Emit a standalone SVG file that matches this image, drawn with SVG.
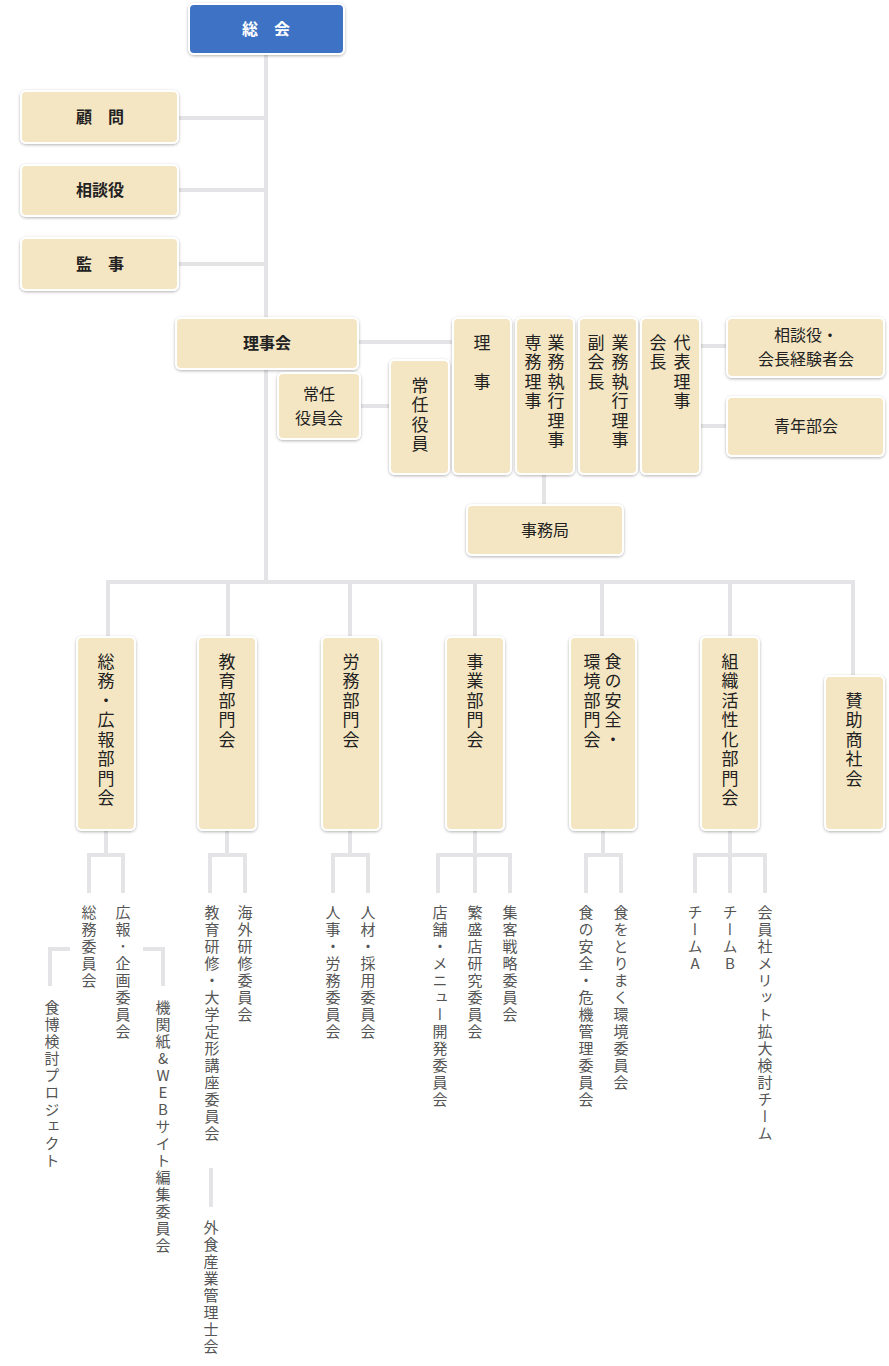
<svg xmlns="http://www.w3.org/2000/svg" width="889" height="1366" viewBox="0 0 889 1366">
<defs>
<filter id="sh" x="-20%" y="-20%" width="140%" height="140%"><feDropShadow dx="0" dy="1" stdDeviation="1.5" flood-color="#000" flood-opacity="0.3"/></filter>
<style>
.b{fill:#f5e6c3;stroke:#fff;stroke-width:2;filter:url(#sh)}
.t{font-family:"Noto Sans CJK JP","Noto Sans",sans-serif;font-size:16px;fill:#222;text-anchor:middle}
.v{font-family:"Noto Sans CJK JP","Noto Sans",sans-serif;font-size:17px;fill:#222;writing-mode:vertical-rl;text-orientation:upright;letter-spacing:2.5px}
.s{font-family:"Noto Sans CJK JP","Noto Sans",sans-serif;font-size:15px;fill:#555;writing-mode:vertical-rl;text-orientation:upright;letter-spacing:2px}
.l{stroke:#e4e4e6;stroke-width:4;fill:none}
</style>
</defs>
<g id="connectors">
<path class="l" d="M266 54V582M178 118H266M178 190H266M178 264H266M358 342H453M360 406H390M700 346H727M700 426H727M544 474V505"/>
<path class="l" d="M108 636V582H853V676M228 582V636M350 582V636M475 582V636M602 582V636M730 582V636"/>
<path class="l" d="M106 830V855M89 893V855H123V893M50 986V949H70M143 949H163V986"/>
<path class="l" d="M227 830V855M210 893V855H245V893M211 1168V1207"/>
<path class="l" d="M350 830V855M333 893V855H368V893"/>
<path class="l" d="M475 830V855M438 893V855H510V893M475 855V893"/>
<path class="l" d="M603 830V855M586 893V855H621V893"/>
<path class="l" d="M730 830V893M695 893V855H765V893"/>
</g>
<g id="n-soukai"><rect x="189" y="4" width="155" height="50" rx="5" fill="#3c72c4" stroke="#fff" stroke-width="2" filter="url(#sh)"/><text class="t" x="266" y="35" style="fill:#fff;font-weight:bold">総　会</text></g>
<g id="n-komon"><rect class="b" x="21" y="91" width="157" height="52" rx="5"/><text class="t" x="100" y="123" font-weight="bold">顧　問</text></g>
<g id="n-soudan"><rect class="b" x="21" y="165" width="157" height="51" rx="5"/><text class="t" x="100" y="196" font-weight="bold">相談役</text></g>
<g id="n-kanji"><rect class="b" x="21" y="238" width="157" height="52" rx="5"/><text class="t" x="100" y="270" font-weight="bold">監　事</text></g>
<g id="n-rijikai"><rect class="b" x="176" y="318" width="182" height="51" rx="5"/><text class="t" x="267" y="349" font-weight="bold">理事会</text></g>
<g id="n-jouninkai"><rect class="b" x="278" y="373" width="82" height="66" rx="5"/><text class="t" x="319" y="400">常任</text><text class="t" x="319" y="424">役員会</text></g>
<g id="n-jounin"><rect class="b" x="390" y="360" width="59" height="114" rx="5"/><text class="v" x="420" y="377">常任役員</text></g>
<g id="n-riji"><rect class="b" x="453" y="318" width="58" height="156" rx="5"/><text class="v" x="482" y="334">理　事</text></g>
<g id="n-senmu"><rect class="b" x="516" y="318" width="58" height="156" rx="5"/><text class="v" x="556" y="334">業務執行理事</text><text class="v" x="533" y="334">専務理事</text></g>
<g id="n-fuku"><rect class="b" x="579" y="318" width="58" height="156" rx="5"/><text class="v" x="620" y="334">業務執行理事</text><text class="v" x="596" y="334">副会長</text></g>
<g id="n-daihyo"><rect class="b" x="641" y="318" width="59" height="156" rx="5"/><text class="v" x="682" y="334">代表理事</text><text class="v" x="658" y="334">会長</text></g>
<g id="n-keiken"><rect class="b" x="727" y="318" width="157" height="59" rx="5"/><text class="t" x="806" y="341">相談役・</text><text class="t" x="806" y="365">会長経験者会</text></g>
<g id="n-seinen"><rect class="b" x="727" y="397" width="157" height="59" rx="5"/><text class="t" x="806" y="432">青年部会</text></g>
<g id="n-jimu"><rect class="b" x="467" y="505" width="156" height="50" rx="5"/><text class="t" x="545" y="536">事務局</text></g>
<g id="n-d1"><rect class="b" x="77" y="637" width="58" height="193" rx="5"/><text class="v" x="106" y="653">総務・広報部門会</text></g>
<g id="n-d2"><rect class="b" x="198" y="637" width="58" height="193" rx="5"/><text class="v" x="227" y="653">教育部門会</text></g>
<g id="n-d3"><rect class="b" x="322" y="637" width="58" height="193" rx="5"/><text class="v" x="351" y="653">労務部門会</text></g>
<g id="n-d4"><rect class="b" x="446" y="637" width="58" height="193" rx="5"/><text class="v" x="475" y="653">事業部門会</text></g>
<g id="n-d5"><rect class="b" x="570" y="637" width="66" height="193" rx="5"/><text class="v" x="613" y="653">食の安全・</text><text class="v" x="592" y="653">環境部門会</text></g>
<g id="n-d6"><rect class="b" x="701" y="637" width="58" height="193" rx="5"/><text class="v" x="730" y="653">組織活性化部門会</text></g>
<g id="n-d7"><rect class="b" x="825" y="676" width="59" height="154" rx="5"/><text class="v" x="854" y="692">賛助商社会</text></g>
<g id="subs">
<text class="s" x="89" y="905">総務委員会</text>
<text class="s" x="123" y="905">広報･企画委員会</text>
<text class="s" x="52" y="1000">食博検討プロジェクト</text>
<text class="s" x="163" y="1000">機関紙&amp;WEBサイト編集委員会</text>
<text class="s" x="212" y="905">教育研修・大学定形講座委員会</text>
<text class="s" x="245" y="905">海外研修委員会</text>
<text class="s" x="211" y="1220">外食産業管理士会</text>
<text class="s" x="333" y="905">人事・労務委員会</text>
<text class="s" x="368" y="905">人材・採用委員会</text>
<text class="s" x="440" y="905">店舗・メニュー開発委員会</text>
<text class="s" x="475" y="905">繁盛店研究委員会</text>
<text class="s" x="510" y="905">集客戦略委員会</text>
<text class="s" x="586" y="905">食の安全・危機管理委員会</text>
<text class="s" x="621" y="905">食をとりまく環境委員会</text>
<text class="s" x="695" y="905">チームA</text>
<text class="s" x="730" y="905">チームB</text>
<text class="s" x="765" y="905">会員社メリット拡大検討チーム</text>
</g>
</svg>
